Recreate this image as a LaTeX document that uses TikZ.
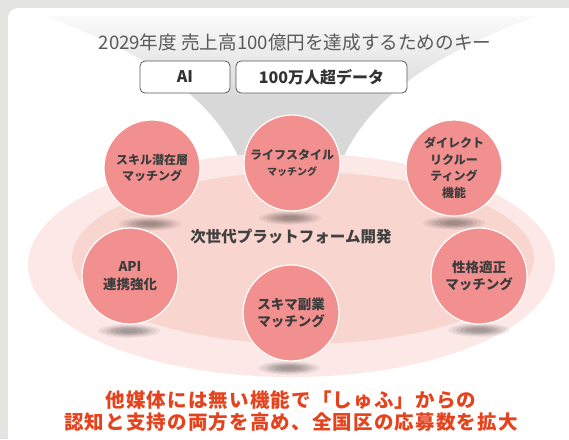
\documentclass[tikz,border=0pt]{standalone}
\usepackage{fontspec}
\setmainfont{Noto Sans CJK JP}
\definecolor{bgGray}{HTML}{E4E4E2}
\definecolor{fDark}{HTML}{D8D8D8}
\definecolor{fLight}{HTML}{FAFAFA}
\definecolor{outerE}{HTML}{FCE8E6}
\definecolor{innerE}{HTML}{F9D5CF}
\definecolor{circ}{HTML}{F29090}
\definecolor{circText}{HTML}{3C3C3C}
\definecolor{midText}{HTML}{404040}
\definecolor{topText}{HTML}{5A5A5A}
\definecolor{boxLine}{HTML}{5A5A5A}
\definecolor{redText}{HTML}{E5431E}
\pgfdeclareverticalshading{funnelshade}{100bp}{color(0bp)=(fDark); color(52bp)=(fDark); color(75bp)=(fLight); color(100bp)=(fLight)}
\tikzset{
  bub/.style={circle, fill=circ, draw=white, line width=1.2pt, minimum size=96pt, inner sep=0pt,
    text=circText, align=center, font=\fontsize{12}{16.5}\selectfont\bfseries},
  bigbub/.style={bub, font=\fontsize{13.5}{17.5}\selectfont\bfseries},
  keybox/.style={draw=boxLine, line width=0.8pt, fill=white, rounded corners=5pt,
    minimum height=32pt, inner sep=0pt, text=black!80, font=\fontsize{16}{18}\selectfont\bfseries},
  shadowfill/.style={fill=black}
}
\newcommand\cshadow[2]{%
  \foreach \a/\b/\o in {31/6.8/0.05, 27/5.8/0.06, 23/4.8/0.07, 19/4/0.08, 14/3/0.08, 9/2/0.06}{%
    \fill[shadowfill, opacity=\o] (#1,#2) ellipse [x radius=\a, y radius=\b];}}
\begin{document}
\begin{tikzpicture}[x=1pt, y=-1pt]
\useasboundingbox (0,0) rectangle (569,439);
\clip (0,0) rectangle (569,439);
% background and panel
\fill[bgGray] (0,0) rectangle (569,439);
\fill[white, rounded corners=10pt] (8,8) rectangle (600,470);
% funnel
\shade[shading=funnelshade] (45,16) .. controls (150,55) and (235,105) .. (252,200)
  -- (330,200) .. controls (347,105) and (432,55) .. (537,16) -- cycle;
% ellipses
\fill[outerE] (291.5,265) ellipse [x radius=263.5, y radius=112];
\fill[innerE] (303,258) ellipse [x radius=231, y radius=86];
% title and key boxes
\node[text=topText, font=\fontsize{18.6}{20}\selectfont, inner sep=0pt] (title) at (295,42)
  {2029年度 売上高100億円を達成するためのキー};
\node[keybox, minimum width=90pt] (ai) at (185,77) {AI};
\node[keybox, minimum width=171pt] (data) at (321.5,77) {100万人超データ};
% centre label
\node[text=midText, font=\fontsize{15.5}{18}\selectfont\bfseries, inner sep=0pt] (platform) at (291,237)
  {次世代プラットフォーム開発};
% shadows
\cshadow{150}{224}
\cshadow{290}{218}
\cshadow{454}{223}
\cshadow{129}{331}
\cshadow{289}{368}
\cshadow{479}{330}
% circles
\node[bub] (skill) at (152,168) {スキル潜在層\\マッチング};
\node[bub] (life) at (292,163) {ライフスタイル\\{\fontsize{10}{12}\selectfont マッチング}};
\node[bub] (direct) at (454,168) {ダイレクト\\リクルー\\ティング\\機能};
\node[bigbub] (api) at (130,276) {API\\連携強化};
\node[bigbub] (sukima) at (291,313) {スキマ副業\\マッチング};
\node[bigbub] (seikaku) at (479,276) {性格適正\\マッチング};
% bottom message
\node[text=redText, align=center, inner sep=0pt,
  font=\fontsize{19.5}{21.5}\selectfont\bfseries\addfontfeature{LetterSpace=6}] (msg) at (291,411)
  {他媒体には無い機能で「しゅふ」からの\\認知と支持の両方を高め、全国区の応募数を拡大};
\end{tikzpicture}
\end{document}
